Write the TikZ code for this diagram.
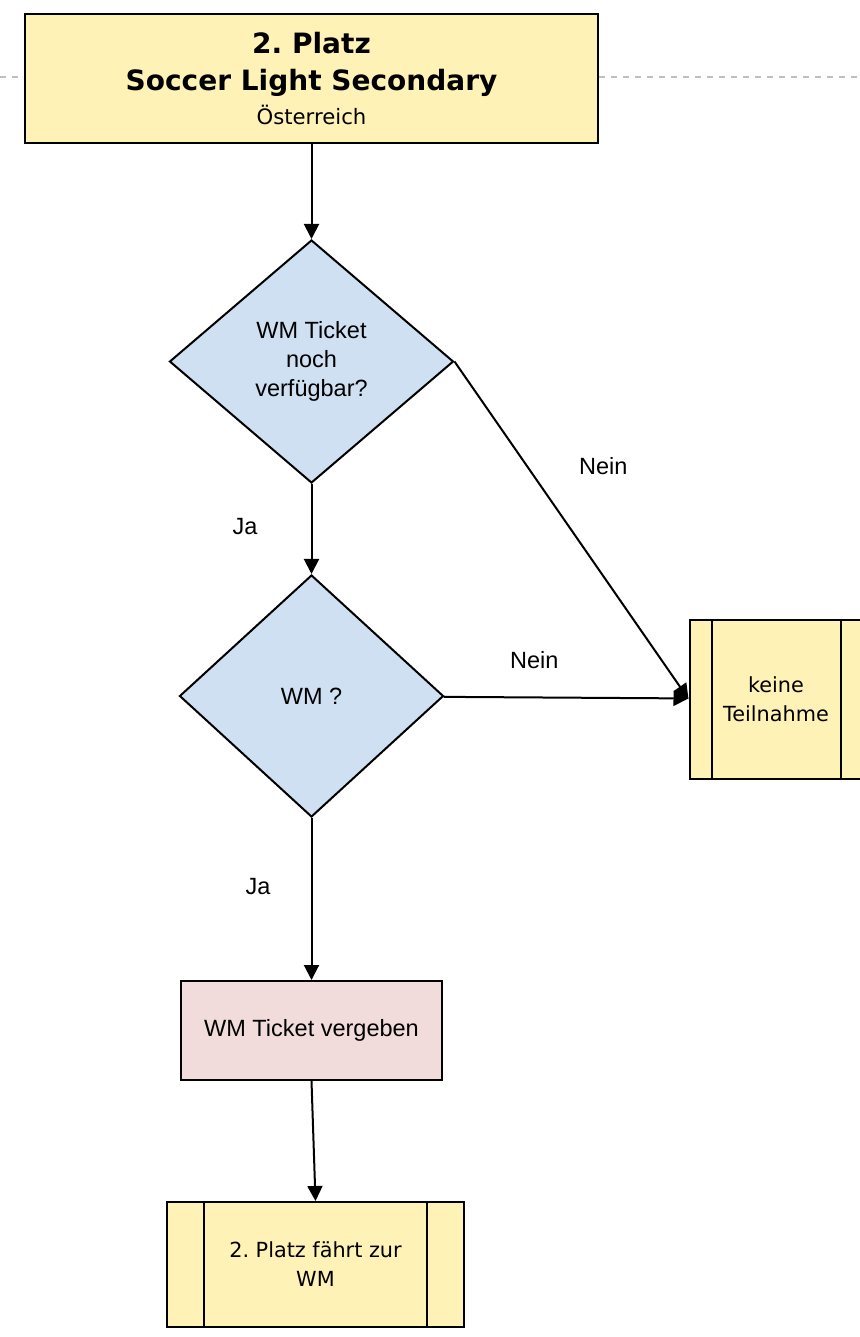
\documentclass[tikz,border=0pt]{standalone}
\usepackage{fontspec}
\setmainfont{Liberation Sans}
\newfontfamily\tahoma{DejaVu Sans}
\usetikzlibrary{positioning, shapes.geometric, arrows.meta}
\definecolor{boxyellow}{RGB}{255,242,182}
\definecolor{boxblue}{RGB}{206,224,241}
\definecolor{boxpink}{RGB}{242,220,219}
\frenchspacing

\begin{document}
\begin{tikzpicture}[
    node distance=48.5pt,
    every node/.style={align=center, font=\fontsize{11.75}{14.5}\selectfont},
    box/.style={draw=black, line width=1pt, rectangle, inner sep=0pt},
    decision/.style={draw=black, line width=1pt, diamond, aspect=1.17, fill=boxblue, inner sep=0pt},
    predef/.style={box, fill=boxyellow, font=\tahoma\fontsize{10.4}{14.5}\selectfont, path picture={
        \draw[line width=1pt] ([xshift=#1]path picture bounding box.north west) -- ([xshift=#1]path picture bounding box.south west);
        \draw[line width=1pt] ([xshift=-#1]path picture bounding box.north east) -- ([xshift=-#1]path picture bounding box.south east);}},
    predef/.default=11pt,
    lbl/.style={inner sep=0pt},
    arrow/.style={-{Triangle[length=7.5pt, width=7.5pt]}, line width=1pt},
    guide/.style={draw=black!25, dashed, line width=0.6pt}
]
\useasboundingbox (0,0) rectangle (429.5pt,-668.5pt);

\node[box, fill=boxyellow, font=\tahoma, minimum width=286.5pt, minimum height=64.5pt] (1) at (155.75pt,-39.25pt)
    {{\bfseries\fontsize{14}{19}\selectfont 2. Platz}\\[6.5pt]{\bfseries\fontsize{14}{19}\selectfont Soccer Light Secondary}\\[3pt]{\fontsize{10.6}{16}\selectfont Österreich}};
\node[decision, minimum width=142pt, minimum height=121.5pt, below=47.5pt of 1] (2) {WM Ticket\\noch\\verfügbar?};
\node[decision, minimum width=132pt, minimum height=121pt, below=45pt of 2] (3) {WM ?};
\node[box, fill=boxpink, minimum width=130.5pt, minimum height=49.5pt, below=81pt of 3] (4) {WM Ticket vergeben};
\node[predef=18.5pt, minimum width=148.5pt, minimum height=62.5pt, below=60pt of 4, xshift=2pt] (5) {2. Platz fährt zur\\WM};
\node[predef, minimum width=86.5pt, minimum height=79.5pt, right=122pt of 3, yshift=-1.5pt] (6) {keine\\Teilnahme};

% dashed guide line behind the title
\coordinate (l) at (0,-38.5pt);
\coordinate (r) at (429.5pt,-38.5pt);
\draw[guide] (l) -- (l -| 1.west);
\draw[guide] (1.east |- r) -- (r);

\draw[arrow] (1) -- (2);
\draw[arrow] (2) -- node[lbl, pos=0.47, left=26.5pt] {Ja} (3);
\draw[arrow] (2.east) -- node[lbl, pos=0.31, right=25.5pt] {Nein} (6.west);
\draw[arrow] (3) -- node[lbl, pos=0.37, above=13.7pt] {Nein} (6);
\draw[arrow] (3) -- node[lbl, pos=0.42, left=20pt] {Ja} (4);
\draw[arrow] (4.south) -- (5.north);
\end{tikzpicture}
\end{document}
